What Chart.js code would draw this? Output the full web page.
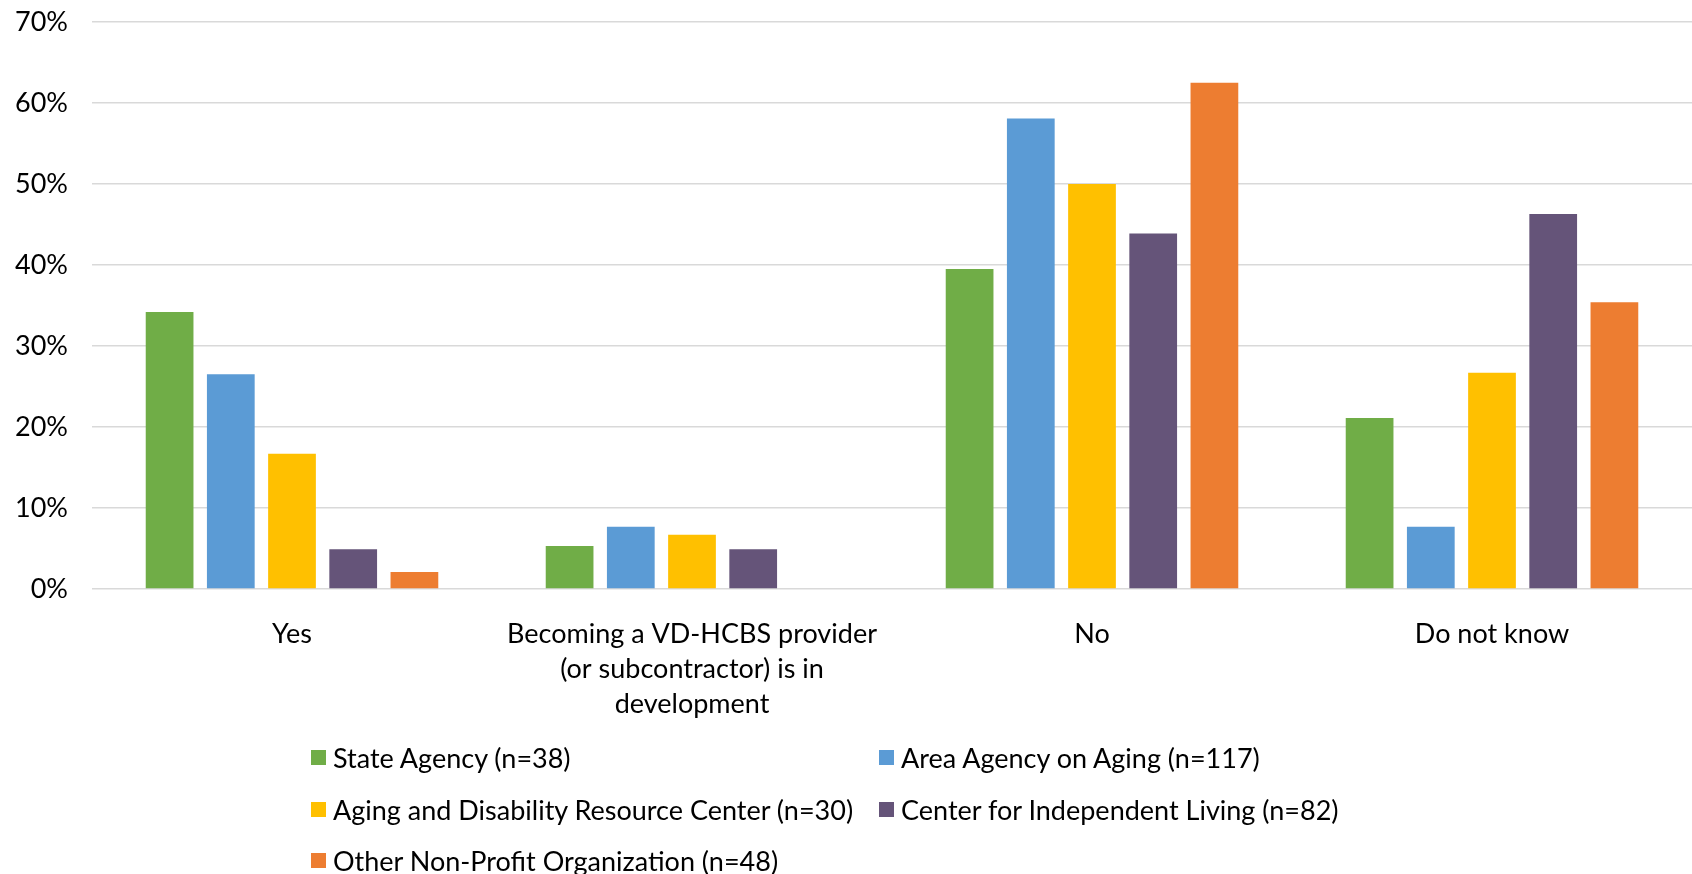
<!DOCTYPE html>
<html>
<head>
<meta charset="utf-8">
<script src="https://cdn.jsdelivr.net/npm/chart.js@4"></script>
<style>
  html, body { margin: 0; padding: 0; background: #fff; }
  #wrap { position: relative; width: 1692px; height: 874px; }
  #legend {
    position: absolute; left: 311px; top: 732px;
    display: grid; grid-template-columns: 568px auto; grid-auto-rows: 51.5px;
    font-family: Lato, "Open Sans", sans-serif; font-size: 27px; color: #000;
  }
  .item { display: flex; align-items: center; white-space: nowrap; }
  .box { width: 15px; height: 15px; margin-right: 7px; flex: none; }
</style>
</head>
<body>
<div id="wrap">
  <canvas id="chart" width="1692" height="874"></canvas>
  <div id="legend"></div>
</div>
<script>
// categories on the x axis
const categories = [
  "Yes",
  ["Becoming a VD-HCBS provider", "(or subcontractor) is in", "development"],
  "No",
  "Do not know"
];

// percent of respondents per organization type
const seriesNames = [
  "State Agency (n=38)",
  "Area Agency on Aging (n=117)",
  "Aging and Disability Resource Center (n=30)",
  "Center for Independent Living (n=82)",
  "Other Non-Profit Organization (n=48)"
];
const stateAgency   = [34.2, 5.3, 39.5, 21.1];
const areaAgency    = [26.5, 7.7, 58.1, 7.7];
const adrc          = [16.7, 6.7, 50.0, 26.7];
const cil           = [4.9, 4.9, 43.9, 46.3];
const otherNonProfit = [2.1, 0, 62.5, 35.4];

const colors = ["#70AD47", "#5B9BD5", "#FFC000", "#655479", "#ED7D31"];
const yTicks = [0, 10, 20, 30, 40, 50, 60, 70];

const values = [stateAgency, areaAgency, adrc, cil, otherNonProfit];
const datasets = values.map((v, i) => ({
  label: seriesNames[i],
  data: v,
  backgroundColor: colors[i],
  categoryPercentage: 0.765,
  barPercentage: 0.78
}));

const font = { family: "Lato, 'Open Sans', sans-serif", size: 27 };

const chart = new Chart(document.getElementById("chart"), {
  type: "bar",
  data: { labels: categories, datasets: datasets },
  options: {
    responsive: false,
    animation: false,
    layout: { padding: { top: 22, right: 0, bottom: 154, left: 0 } },
    plugins: { legend: { display: false }, tooltip: { enabled: false } },
    scales: {
      x: {
        grid: { display: false },
        border: { display: false },
        ticks: { color: "#000", font: Object.assign({ lineHeight: 1.3 }, font), padding: 20, maxRotation: 0, autoSkip: false },
        afterFit: (s) => { s.height = 131; }
      },
      y: {
        min: 0, max: 70,
        afterBuildTicks: (s) => { s.ticks = yTicks.map(v => ({ value: v })); },
        grid: { color: "#d9d9d9", lineWidth: 1.5, drawTicks: false },
        border: { display: false },
        ticks: { color: "#000", font: font, padding: 24, callback: (v) => v + "%" },
        afterFit: (s) => { s.width = 92; s.paddingTop = 0; s.paddingBottom = 0; }
      }
    }
  }
});

// legend laid out in two columns like the original
const legend = document.getElementById("legend");
chart.data.datasets.forEach(ds => {
  const item = document.createElement("div");
  item.className = "item";
  item.innerHTML = '<span class="box" style="background:' + ds.backgroundColor + '"></span>' + ds.label;
  legend.appendChild(item);
});
</script>
</body>
</html>
